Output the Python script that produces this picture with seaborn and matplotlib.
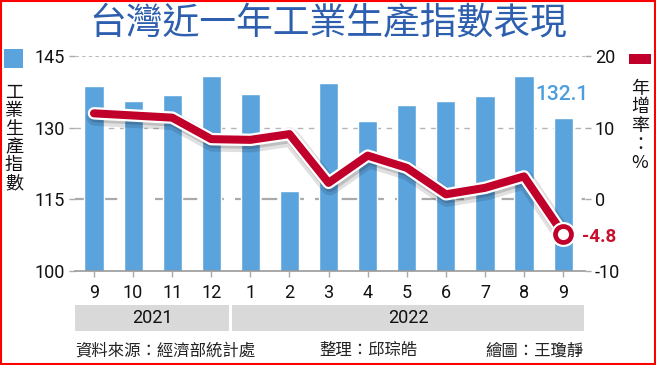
import numpy as np
import pandas as pd
import matplotlib
matplotlib.use("Agg")
import matplotlib.pyplot as plt
import matplotlib.patheffects as pe
from matplotlib.patches import Rectangle
import seaborn as sns

# ---------------- data ----------------
periods = ["2021-09", "2021-10", "2021-11", "2021-12", "2022-01", "2022-02", "2022-03",
           "2022-04", "2022-05", "2022-06", "2022-07", "2022-08", "2022-09"]
month_labels = ["9", "10", "11", "12", "1", "2", "3", "4", "5", "6", "7", "8", "9"]
index_values = [138.8, 135.5, 136.9, 140.8, 137.0, 116.8, 139.3, 131.5, 134.7, 135.6, 136.6, 140.9, 132.1]
yoy_values = [12.0, 11.7, 11.4, 8.4, 8.3, 9.1, 2.3, 6.1, 4.4, 0.7, 1.6, 3.2, -4.8]
years = ["2021", "2022"]
months_per_year = [4, 9]
left_ticks = [100, 115, 130, 145]
right_ticks = [-10, 0, 10, 20]
title = "台灣近一年工業生產指數表現"
left_label = "工業生產指數"
right_label = "年增率：%"
footer = ["資料來源：經濟部統計處", "整理：邱琮皓", "繪圖：王瓊靜"]

BLUE = "#5ba3dc"
RED = "#c0002a"
TITLE_BLUE = "#2d5fae"
CJK = ["Noto Sans CJK TC", "DejaVu Sans"]

sns.set_theme(style="white")
plt.rcParams["font.family"] = ["Roboto", "Noto Sans CJK TC", "DejaVu Sans"]

df = pd.DataFrame({"period": periods, "index": index_values, "yoy": yoy_values,
                   "pos": np.arange(len(periods))})

W, H = 656, 365
fig = plt.figure(figsize=(W / 100, H / 100), dpi=100)
fig.patch.set_facecolor("white")
ax = fig.add_axes([75 / W, 94 / H, 510 / W, 215 / H])

# grid lines (behind bars)
ax.axhline(145, color="#bbbbbb", lw=0.8, ls=(0, (3, 3)), zorder=0)
ax.axhline(130, color="#b5b5b5", lw=1.0, ls=(0, (4, 4)), zorder=0)
ax.axhline(115, color="#aaaaaa", lw=1.6, ls=(0, (7, 5)), zorder=0)

sns.barplot(data=df, x="period", y="index", ax=ax, color=BLUE, width=0.49,
            saturation=1, zorder=2)
ax.set_ylim(left_ticks[0], left_ticks[-1])
ax.set_xlim(-0.486, len(periods) - 1 + 0.56)
ax.set_xlabel("")
ax.set_ylabel("")
for s in ["top", "left", "right"]:
    ax.spines[s].set_visible(False)
ax.spines["bottom"].set_color("#999999")
ax.spines["bottom"].set_linewidth(1.2)
ax.set_yticks(left_ticks)
ax.set_yticklabels([str(t) for t in left_ticks])
ax.set_xticks(range(len(periods)))
ax.set_xticklabels(month_labels)
ax.tick_params(axis="y", length=4, color="#aaaaaa", width=1, labelsize=13, pad=3,
               left=True, labelcolor="#111111")
ax.tick_params(axis="x", length=4, color="#aaaaaa", width=1, labelsize=13, pad=5,
               bottom=True, labelcolor="#111111")

# secondary axis with YoY line
ax2 = ax.twinx()
ax2.set_ylim(right_ticks[0], right_ticks[-1])
for s in ["top", "left", "right", "bottom"]:
    ax2.spines[s].set_visible(False)
ax2.set_yticks(right_ticks)
ax2.set_yticklabels([str(t) for t in right_ticks])
ax2.tick_params(axis="y", length=4, color="#aaaaaa", width=1, labelsize=13, pad=3,
                right=True, labelcolor="#111111")

line_fx = [pe.SimpleLineShadow(offset=(1, -2.5), shadow_color="black", alpha=0.12, linewidth=13),
           pe.SimpleLineShadow(offset=(1, -2), shadow_color="black", alpha=0.15, linewidth=9),
           pe.Stroke(linewidth=9, foreground="white"), pe.Normal()]
sns.lineplot(data=df, x="pos", y="yoy", ax=ax2, color=RED, linewidth=5.8,
             path_effects=line_fx, zorder=3)
ax2.set_xlabel("")
ax2.set_ylabel("")
last = df.iloc[-1]
ax2.plot([last["pos"]], [last["yoy"]], marker="o", ms=18, mfc="white", mec="white",
         mew=0, zorder=4)
ax2.plot([last["pos"]], [last["yoy"]], marker="o", ms=11.5, mfc="white", mec=RED,
         mew=3.4, zorder=5)
ax2.set_xlim(ax.get_xlim())

# annotations
ax.annotate(f"{index_values[-1]:.1f}", xy=(len(periods) - 1, index_values[-1]),
            xytext=(-1, 10), textcoords="offset points", ha="center", va="bottom",
            fontsize=15, color="#4a9ee0", fontweight="medium", zorder=6)
ax2.annotate(f"{yoy_values[-1]:.1f}", xy=(last["pos"], last["yoy"]),
             xytext=(13.5, -2), textcoords="offset points", ha="left", va="center",
             fontsize=13.5, color="#c8102e", fontweight="bold", zorder=6)

# year bands below the axis
trans = ax.get_xaxis_transform()
start = -0.486
acc = 0
for i, (yr, n) in enumerate(zip(years, months_per_year)):
    x0 = start if i == 0 else acc - 0.46
    acc += n
    x1 = acc - 0.54 if i < len(years) - 1 else len(periods) - 1 + 0.54
    ax.add_patch(Rectangle((x0, -0.279), x1 - x0, 0.121, transform=trans,
                           facecolor="#d9d9d9", edgecolor="none", clip_on=False))
    ax.text((x0 + x1) / 2, -0.218, yr, transform=trans, ha="center", va="center",
            fontsize=13, color="#111111")

# title
fig.text(328 / W, 1 - 23 / H, title, ha="center", va="center", fontsize=26.5,
         color=TITLE_BLUE, fontweight="medium", family=CJK)

# legend keys & vertical axis titles
fig.patches.append(Rectangle((4 / W, 1 - 68 / H), 19 / W, 19 / H, transform=fig.transFigure,
                             facecolor=BLUE, edgecolor="none"))
fig.text(14 / W, 1 - 138 / H, "\n".join(left_label), ha="center", va="center",
         fontsize=13, color="#111111", linespacing=1.0, family=CJK)
fig.patches.append(Rectangle((629 / W, 1 - 64 / H), 22 / W, 10 / H, transform=fig.transFigure,
                             facecolor=RED, edgecolor="none"))
fig.text(640 / W, 1 - 126 / H, "\n".join(right_label), ha="center", va="center",
         fontsize=13, color="#111111", linespacing=1.05, family=CJK)

# footer
fig.text(75 / W, 1 - 351 / H, footer[0], ha="left", va="center", fontsize=11.8,
         color="#222222", family=CJK)
fig.text(319 / W, 1 - 351 / H, footer[1], ha="left", va="center", fontsize=11.8,
         color="#222222", family=CJK)
fig.text(584 / W, 1 - 351 / H, footer[2], ha="right", va="center", fontsize=11.8,
         color="#222222", family=CJK)

# red frame
fig.patches.append(Rectangle((0.001, 0.002), 0.997, 0.995, transform=fig.transFigure,
                             fill=False, edgecolor="#ff0000", lw=1.5))

fig.savefig("out.png", dpi=100)
